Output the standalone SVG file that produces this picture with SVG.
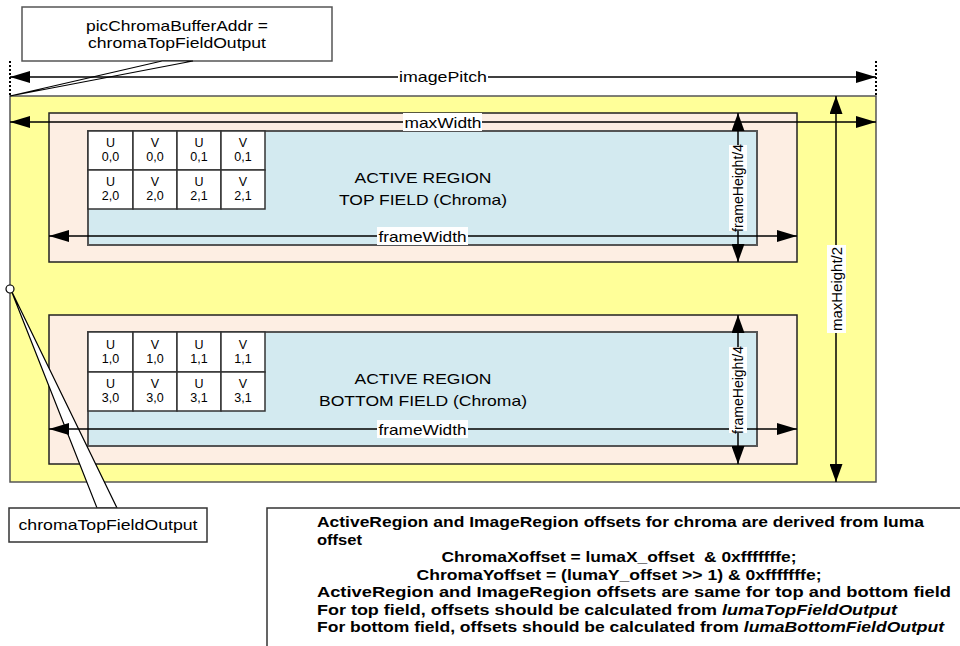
<svg xmlns="http://www.w3.org/2000/svg" width="960" height="646" viewBox="0 0 960 646">
<defs>
<style>
.t{font-family:"Liberation Sans",Arial,sans-serif;font-size:15px;fill:#000}
.c{text-anchor:middle}
.g{font-size:12.5px}
.r{font-size:14px}
.b{font-size:15.5px;font-weight:bold}
.ln{stroke:#000;stroke-width:1.5;fill:none}
.cell{fill:#fff;stroke:#333;stroke-width:1.5}
.lbl{fill:#fff}
</style>
<marker id="ah" markerUnits="userSpaceOnUse" markerWidth="20" markerHeight="12" refX="20" refY="6" orient="auto-start-reverse"><path d="M0,0L20,6L0,12z" fill="#000"/></marker>
<marker id="av" markerUnits="userSpaceOnUse" markerWidth="18" markerHeight="13" refX="18" refY="6.5" orient="auto-start-reverse"><path d="M0,0L18,6.5L0,13z" fill="#000"/></marker>
</defs>
<rect width="960" height="646" fill="#fff"/>

<g id="image-region">
<rect x="10" y="96" width="866" height="386" fill="#FFFF99" stroke="#555" stroke-width="1.5"/>
</g>
<g id="top-field">
<rect x="49" y="113" width="748" height="149" fill="#FDEEE3" stroke="#222" stroke-width="1.5"/>
<rect x="88" y="131" width="669" height="114" fill="#D3EAF0" stroke="#555" stroke-width="2"/>
<text class="t c" x="423" y="183" textLength="137" lengthAdjust="spacingAndGlyphs">ACTIVE REGION</text>
<text class="t c" x="423" y="205" textLength="168" lengthAdjust="spacingAndGlyphs">TOP FIELD (Chroma)</text>
</g>
<g id="top-grid">
<rect class="cell" x="88" y="131" width="45" height="39"/><rect class="cell" x="133" y="131" width="44" height="39"/><rect class="cell" x="177" y="131" width="44" height="39"/><rect class="cell" x="221" y="131" width="44" height="39"/>
<rect class="cell" x="88" y="170" width="45" height="39"/><rect class="cell" x="133" y="170" width="44" height="39"/><rect class="cell" x="177" y="170" width="44" height="39"/><rect class="cell" x="221" y="170" width="44" height="39"/>
<text class="t g c" x="110.5" y="147">U</text><text class="t g c" x="155" y="147">V</text><text class="t g c" x="199" y="147">U</text><text class="t g c" x="243" y="147">V</text>
<text class="t g c" x="110.5" y="161">0,0</text><text class="t g c" x="155" y="161">0,0</text><text class="t g c" x="199" y="161">0,1</text><text class="t g c" x="243" y="161">0,1</text>
<text class="t g c" x="110.5" y="186">U</text><text class="t g c" x="155" y="186">V</text><text class="t g c" x="199" y="186">U</text><text class="t g c" x="243" y="186">V</text>
<text class="t g c" x="110.5" y="200">2,0</text><text class="t g c" x="155" y="200">2,0</text><text class="t g c" x="199" y="200">2,1</text><text class="t g c" x="243" y="200">2,1</text>
</g>

<g id="bottom-field">
<rect x="49" y="315" width="748" height="149" fill="#FDEEE3" stroke="#222" stroke-width="1.5"/>
<rect x="88" y="332" width="669" height="114" fill="#D3EAF0" stroke="#555" stroke-width="2"/>
<text class="t c" x="423" y="384" textLength="137" lengthAdjust="spacingAndGlyphs">ACTIVE REGION</text>
<text class="t c" x="423" y="406" textLength="208" lengthAdjust="spacingAndGlyphs">BOTTOM FIELD (Chroma)</text>
</g>
<g id="bottom-grid">
<rect class="cell" x="88" y="332" width="45" height="40"/><rect class="cell" x="133" y="332" width="44" height="40"/><rect class="cell" x="177" y="332" width="44" height="40"/><rect class="cell" x="221" y="332" width="44" height="40"/>
<rect class="cell" x="88" y="372" width="45" height="39"/><rect class="cell" x="133" y="372" width="44" height="39"/><rect class="cell" x="177" y="372" width="44" height="39"/><rect class="cell" x="221" y="372" width="44" height="39"/>
<text class="t g c" x="110.5" y="349">U</text><text class="t g c" x="155" y="349">V</text><text class="t g c" x="199" y="349">U</text><text class="t g c" x="243" y="349">V</text>
<text class="t g c" x="110.5" y="363">1,0</text><text class="t g c" x="155" y="363">1,0</text><text class="t g c" x="199" y="363">1,1</text><text class="t g c" x="243" y="363">1,1</text>
<text class="t g c" x="110.5" y="388">U</text><text class="t g c" x="155" y="388">V</text><text class="t g c" x="199" y="388">U</text><text class="t g c" x="243" y="388">V</text>
<text class="t g c" x="110.5" y="402">3,0</text><text class="t g c" x="155" y="402">3,0</text><text class="t g c" x="199" y="402">3,1</text><text class="t g c" x="243" y="402">3,1</text>
</g>

<g id="callout-top">
<rect x="22" y="7" width="310" height="54" fill="#fff" stroke="#555" stroke-width="1.5"/>
<polygon points="162,61 193,61 10,96" fill="#fff" stroke="#000" stroke-width="1.2"/>
<text class="t c" x="177" y="31" textLength="182" lengthAdjust="spacingAndGlyphs">picChromaBufferAddr =</text>
<text class="t c" x="177" y="47.5" textLength="178" lengthAdjust="spacingAndGlyphs">chromaTopFieldOutput</text>
</g>
<g id="callout-bottom">
<polygon points="11,290 97,508 117,508" fill="#fff" stroke="#000" stroke-width="1.2"/>
<circle cx="10" cy="289" r="4" fill="#fff" stroke="#000" stroke-width="1.2"/>
<rect x="9" y="508" width="198" height="34" fill="#fff" stroke="#333" stroke-width="1.5"/>
<text class="t c" x="108" y="530" textLength="179" lengthAdjust="spacingAndGlyphs">chromaTopFieldOutput</text>
</g>

<g id="connectors">
<line x1="10" y1="61" x2="10" y2="96" stroke="#000" stroke-width="2" stroke-dasharray="2,2"/>
<line x1="876" y1="61" x2="876" y2="96" stroke="#000" stroke-width="2" stroke-dasharray="2,2"/>
<line class="ln" x1="10" y1="77" x2="876" y2="77" marker-start="url(#ah)" marker-end="url(#ah)"/>
<line class="ln" x1="10" y1="122" x2="876" y2="122" marker-start="url(#ah)" marker-end="url(#ah)"/>
<line class="ln" x1="49" y1="236" x2="797" y2="236" marker-start="url(#ah)" marker-end="url(#ah)"/>
<line class="ln" x1="49" y1="429" x2="797" y2="429" marker-start="url(#ah)" marker-end="url(#ah)"/>
<line class="ln" x1="738" y1="113" x2="738" y2="262" marker-start="url(#av)" marker-end="url(#av)"/>
<line class="ln" x1="738" y1="315" x2="738" y2="464" marker-start="url(#av)" marker-end="url(#av)"/>
<line class="ln" x1="836" y1="96" x2="836" y2="482" marker-start="url(#av)" marker-end="url(#av)"/>
</g>

<g id="dimension-labels">
<rect class="lbl" x="398" y="69" width="90" height="17"/>
<text class="t c" x="443" y="82" textLength="88" lengthAdjust="spacingAndGlyphs">imagePitch</text>
<rect class="lbl" x="403" y="113" width="79" height="18"/>
<text class="t c" x="443" y="127.5" textLength="77" lengthAdjust="spacingAndGlyphs">maxWidth</text>
<rect class="lbl" x="377" y="227" width="91" height="18"/>
<text class="t c" x="422.5" y="241.5" textLength="88" lengthAdjust="spacingAndGlyphs">frameWidth</text>
<rect class="lbl" x="377" y="420" width="91" height="18"/>
<text class="t c" x="422.5" y="434.5" textLength="88" lengthAdjust="spacingAndGlyphs">frameWidth</text>
<rect class="lbl" x="729" y="145" width="18" height="86"/>
<text class="t r c" transform="translate(743,188) rotate(-90)" x="0" y="0">frameHeight/4</text>
<rect class="lbl" x="729" y="347" width="18" height="86"/>
<text class="t r c" transform="translate(743,390) rotate(-90)" x="0" y="0">frameHeight/4</text>
<rect class="lbl" x="827" y="245" width="19" height="88"/>
<text class="t c" transform="translate(842,289) rotate(-90)" x="0" y="0">maxHeight/2</text>
</g>

<g id="notes">
<rect x="267" y="508" width="700" height="150" fill="#fff" stroke="#333" stroke-width="1.5"/>
<text class="t b" x="317" y="527" textLength="607" lengthAdjust="spacingAndGlyphs">ActiveRegion and ImageRegion offsets for chroma are derived from luma</text>
<text class="t b" x="317" y="544.5" textLength="45" lengthAdjust="spacingAndGlyphs">offset</text>
<text class="t b c" x="619" y="562" textLength="355" lengthAdjust="spacingAndGlyphs" xml:space="preserve">ChromaXoffset = lumaX_offset  &amp; 0xfffffffe;</text>
<text class="t b c" x="619" y="579.5" textLength="405" lengthAdjust="spacingAndGlyphs">ChromaYoffset = (lumaY_offset &gt;&gt; 1) &amp; 0xfffffffe;</text>
<text class="t b" x="317" y="597" textLength="634" lengthAdjust="spacingAndGlyphs">ActiveRegion and ImageRegion offsets are same for top and bottom field</text>
<text class="t b" x="317" y="614.5" textLength="580" lengthAdjust="spacingAndGlyphs">For top field, offsets should be calculated from <tspan font-style="italic">lumaTopFieldOutput</tspan></text>
<text class="t b" x="317" y="632" textLength="627" lengthAdjust="spacingAndGlyphs">For bottom field, offsets should be calculated from <tspan font-style="italic">lumaBottomFieldOutput</tspan></text>
</g>
</svg>
